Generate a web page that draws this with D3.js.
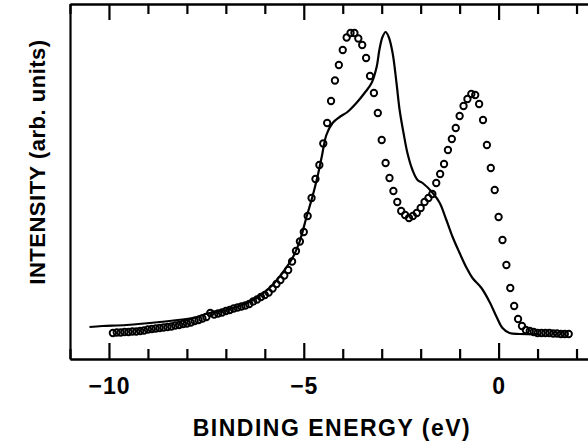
<!DOCTYPE html>
<html>
<head>
<meta charset="utf-8">
<script src="https://cdn.jsdelivr.net/npm/d3@7"></script>
<style>
  body { margin: 0; background: #fff; }
  svg text { font-family: "Liberation Sans", Arial, sans-serif; font-weight: bold; fill: #000; }
</style>
</head>
<body>
<svg id="chart" width="588" height="446"></svg>
<script>
// measured spectrum (circles), 0.1 eV steps
var measEnergy = [
  -9.9, -9.8, -9.7, -9.6, -9.5, -9.4, -9.3, -9.2, -9.1, -9.0,
  -8.9, -8.8, -8.7, -8.6, -8.5, -8.4, -8.3, -8.2, -8.1, -8.0,
  -7.9, -7.8, -7.7, -7.6, -7.5, -7.4, -7.3, -7.2, -7.1, -7.0,
  -6.9, -6.8, -6.7, -6.6, -6.5, -6.4, -6.3, -6.2, -6.1, -6.0,
  -5.9, -5.8, -5.7, -5.6, -5.5, -5.4, -5.3, -5.2, -5.1, -5.0,
  -4.9, -4.8, -4.7, -4.6, -4.5, -4.4, -4.3, -4.2, -4.1, -4.0,
  -3.9, -3.8, -3.7, -3.6, -3.5, -3.4, -3.3, -3.2, -3.1, -3.0,
  -2.9, -2.8, -2.7, -2.6, -2.5, -2.4, -2.3, -2.2, -2.1, -2.0,
  -1.9, -1.8, -1.7, -1.6, -1.5, -1.4, -1.3, -1.2, -1.1, -1.0,
  -0.9, -0.8, -0.7, -0.6, -0.5, -0.4, -0.3, -0.2, -0.1, 0.0,
  0.1, 0.2, 0.3, 0.4, 0.5, 0.6, 0.7, 0.8, 0.9, 1.0,
  1.1, 1.2, 1.3, 1.4, 1.5, 1.6, 1.7, 1.8
];
var measIntensity = [
  5.2, 5.3, 5.3, 5.4, 5.4, 5.5, 5.5, 5.6, 5.7, 5.9,
  6.0, 6.1, 6.2, 6.3, 6.4, 6.5, 6.7, 6.8, 7.0, 7.1,
  7.3, 7.6, 7.8, 8.1, 8.4, 9.2, 8.9, 9.1, 9.3, 9.6,
  9.8, 10.1, 10.3, 10.5, 10.7, 11.0, 11.5, 11.9, 12.4, 12.8,
  13.3, 14.1, 15.0, 15.8, 16.7, 17.8, 19.5, 21.6, 23.5, 25.4,
  28.6, 32.2, 36.0, 38.8, 43.1, 47.2, 51.6, 55.7, 58.8, 61.8,
  64.3, 65.2, 65.2, 64.1, 62.8, 60.2, 56.6, 53.2, 49.2, 43.8,
  39.2, 36.2, 33.6, 31.4, 29.6, 28.8, 28.2, 28.6, 29.2, 30.2,
  31.4, 32.2, 33.0, 35.2, 37.0, 39.0, 41.8, 44.0, 46.2, 48.6,
  50.6, 52.0, 53.0, 52.8, 51.0, 47.8, 42.8, 38.2, 33.8, 28.4,
  23.8, 18.8, 14.2, 10.6, 8.0, 6.6, 5.8, 5.6, 5.4, 5.2,
  5.2, 5.2, 5.2, 5.1, 5.1, 5.0, 5.0, 5.0
];

// calculated spectrum (solid line)
var calcEnergy = [
  -10.50, -10.17, -9.55, -8.70, -7.86, -7.42, -6.98, -6.47, -6.14, -5.80,
  -5.55, -5.29, -5.11, -4.93, -4.78, -4.65, -4.54, -4.42, -4.26, -4.08,
  -3.88, -3.65, -3.44, -3.26, -3.13, -3.06, -2.98, -2.90, -2.82, -2.72,
  -2.62, -2.54, -2.44, -2.34, -2.21, -2.08, -1.95, -1.69, -1.51, -1.34,
  -1.18, -1.00, -0.82, -0.67, -0.44, -0.23, -0.05, 0.10, 0.28, 0.54, 1.05
];
var calcIntensity = [
  6.4, 6.6, 6.8, 7.4, 8.2, 9.2, 9.8, 11.2, 12.6, 14.8,
  17.2, 20.2, 23.4, 28.4, 32.4, 36.4, 40.4, 44.8, 47.2, 48.4,
  49.4, 51.2, 53.2, 55.2, 58.4, 61.8, 64.4, 65.4, 64.4, 61.2,
  55.2, 49.8, 45.2, 41.2, 37.8, 35.8, 35.2, 33.2, 31.2, 27.8,
  24.4, 21.2, 18.2, 16.2, 14.2, 11.4, 8.4, 6.2, 5.2, 5.0, 5.0
];

var majorTicks = [-10, -5, 0];
var minorTicks = [-11, -9, -8, -7, -6, -4, -3, -2, -1, 1, 2];

var svg = d3.select("#chart");

var xScale = d3.scaleLinear().domain([-11, 2.5]).range([70, 596]);
var yScale = d3.scaleLinear().domain([0, 71]).range([359, 4]);

var tickFmt = function (d) { return d < 0 ? "\u2212" + Math.abs(d) : "" + d; };

// bottom axis: major with labels
var bottomMajor = svg.append("g")
    .attr("transform", "translate(0," + yScale(0) + ")")
    .call(d3.axisBottom(xScale).tickValues(majorTicks).tickFormat(tickFmt)
        .tickSize(-16).tickSizeOuter(0).tickPadding(19));
bottomMajor.selectAll("text")
    .style("font-size", "23px")
    .style("letter-spacing", "1px");

svg.append("g")
    .attr("transform", "translate(0," + yScale(0) + ")")
    .call(d3.axisBottom(xScale).tickValues(minorTicks).tickFormat("")
        .tickSize(-10).tickSizeOuter(0));

// top axis, ticks pointing inward
svg.append("g")
    .attr("transform", "translate(0," + yScale(71) + ")")
    .call(d3.axisTop(xScale).tickValues(majorTicks).tickFormat("")
        .tickSize(-16).tickSizeOuter(0));
svg.append("g")
    .attr("transform", "translate(0," + yScale(71) + ")")
    .call(d3.axisTop(xScale).tickValues(minorTicks).tickFormat("")
        .tickSize(-10).tickSizeOuter(0));

// left axis, no ticks
svg.append("g")
    .attr("transform", "translate(" + xScale(-11) + ",0)")
    .call(d3.axisLeft(yScale).tickValues([]).tickSizeOuter(0));

svg.selectAll(".domain, .tick line")
    .attr("stroke", "#000")
    .attr("stroke-width", 2.2);

// calculated curve
var line = d3.line()
    .x(function (d) { return xScale(d[0]); })
    .y(function (d) { return yScale(d[1]); })
    .curve(d3.curveCatmullRom);

svg.append("path")
    .datum(d3.zip(calcEnergy, calcIntensity))
    .attr("d", line)
    .attr("fill", "none")
    .attr("stroke", "#000")
    .attr("stroke-width", 2.2);

// measured points
svg.append("g").selectAll("circle")
    .data(d3.zip(measEnergy, measIntensity)).enter()
    .append("circle")
    .attr("cx", function (d) { return xScale(d[0]); })
    .attr("cy", function (d) { return yScale(d[1]); })
    .attr("r", 3.2)
    .attr("fill", "none")
    .attr("stroke", "#000")
    .attr("stroke-width", 1.9);

// axis titles
svg.append("text")
    .attr("x", 332)
    .attr("y", 436)
    .attr("text-anchor", "middle")
    .style("font-size", "23px")
    .style("letter-spacing", "1.5px")
    .text("BINDING ENERGY (eV)");

svg.append("text")
    .attr("transform", "translate(45,162) rotate(-90)")
    .attr("text-anchor", "middle")
    .style("font-size", "22px")
    .style("letter-spacing", "0.5px")
    .text("INTENSITY (arb. units)");
</script>
</body>
</html>
